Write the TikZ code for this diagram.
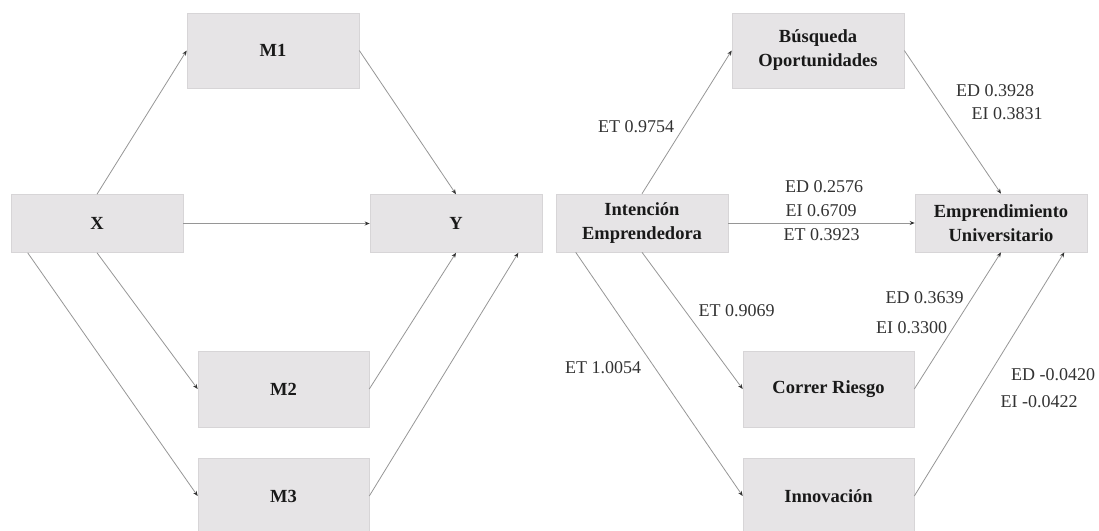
\documentclass[tikz,border=0pt]{standalone}
\usepackage{fontspec}
\setmainfont{Liberation Serif}
\usetikzlibrary{arrows.meta,calc}
\definecolor{boxfill}{RGB}{230,228,230}
\definecolor{boxline}{RGB}{215,213,215}
\definecolor{linegray}{RGB}{150,150,150}
\definecolor{labgray}{RGB}{50,50,50}
\tikzset{
  box/.style={draw=boxline, line width=0.6pt, fill=boxfill, minimum width=172pt, inner sep=0pt,
    font=\fontsize{18.5}{24}\selectfont\bfseries, align=center, text=black!90},
  bigbox/.style={box, minimum height=75pt},
  smallbox/.style={box, minimum height=58pt},
  conn/.style={draw=linegray, line width=0.8pt, -{Stealth[length=5pt,width=4pt,black!80]}},
  lab/.style={font=\fontsize{18}{24}\selectfont, text=labgray, inner sep=0pt}
}
\begin{document}
\begin{tikzpicture}[x=1pt,y=-1pt]
\useasboundingbox (0,0) rectangle (1099,530);
% left diagram
\node[smallbox] (X) at (97,223.5) {X};
\node[smallbox] (Y) at (456,223.5) {Y};
\node[bigbox] (M1) at (273,50.5) {M1};
\node[bigbox, minimum width=171pt, minimum height=76pt] (M2) at (283.5,389) {M2};
\node[bigbox, minimum width=171pt, minimum height=76pt] (M3) at (283.5,496) {M3};
\draw[conn] (X.north) -- (M1.west);
\draw[conn] (M1.east) -- (Y.north);
\draw[conn] (X.east) -- (Y.west);
\draw[conn] (X.south) -- (M2.west);
\draw[conn] ($(X.south west)+(17,0)$) -- (M3.west);
\draw[conn] (M2.east) -- (Y.south);
\draw[conn] (M3.east) -- ($(Y.south east)+(-24,0)$);
% right diagram
\node[smallbox] (IE) at (642,223) {Intención\\Emprendedora};
\node[smallbox] (EU) at (1001,223) {Emprendimiento\\Universitario};
\node[bigbox] (BO) at (818,50.5) {Búsqueda\\Oportunidades};
\node[bigbox, minimum width=171pt, minimum height=76pt] (CR) at (828.5,389) {Correr Riesgo};
\node[bigbox, minimum width=171pt, minimum height=76pt] (IN) at (828.5,496) {Innovación};
\draw[conn] (IE.north) -- (BO.west);
\draw[conn] (BO.east) -- (EU.north);
\draw[conn] (IE.east) -- (EU.west);
\draw[conn] (IE.south) -- (CR.west);
\draw[conn] ($(IE.south west)+(20,0)$) -- (IN.west);
\draw[conn] (CR.east) -- (EU.south);
\draw[conn] (IN.east) -- ($(EU.south east)+(-23,0)$);
% labels
\node[lab] (l1) at (636,127) {ET 0.9754};
\node[lab] (l2) at (995,91) {ED 0.3928};
\node[lab] (l3) at (1007,114) {EI 0.3831};
\node[lab] (l4) at (824,187) {ED 0.2576};
\node[lab] (l5) at (821,211) {EI 0.6709};
\node[lab] (l6) at (821.5,235) {ET 0.3923};
\node[lab] (l7) at (924.5,298) {ED 0.3639};
\node[lab] (l8) at (911.5,328) {EI 0.3300};
\node[lab] (l9) at (736.5,311) {ET 0.9069};
\node[lab] (l10) at (603,368) {ET 1.0054};
\node[lab] (l11) at (1053,375) {ED -0.0420};
\node[lab] (l12) at (1039,402) {EI -0.0422};
\end{tikzpicture}
\end{document}
